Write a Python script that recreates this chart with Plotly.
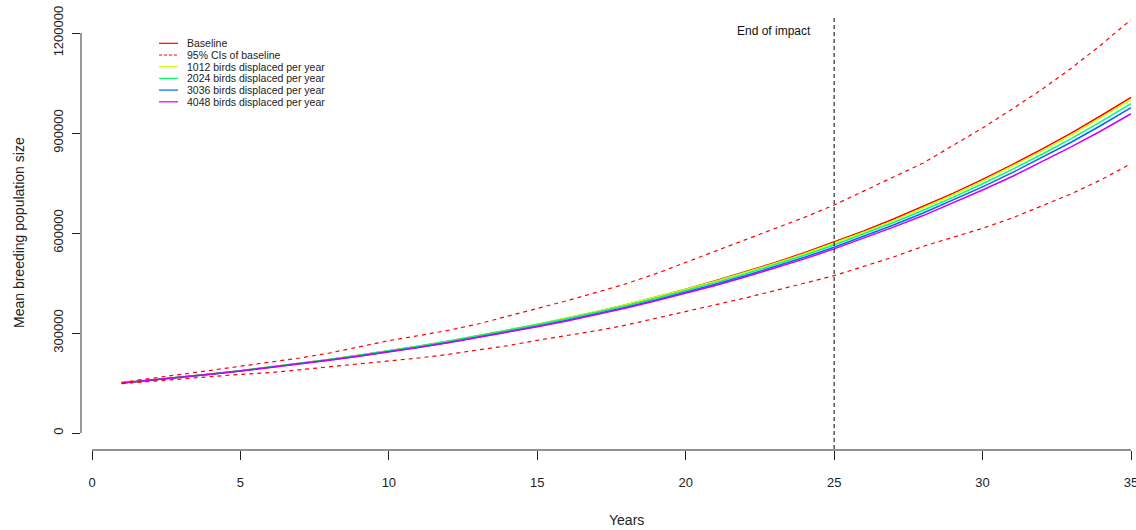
import plotly.graph_objects as go

# ---------------- data ----------------
years = list(range(1, 36))

baseline = [150000, 158500, 167500, 177000, 187000, 197500, 208500, 220500, 233000, 246000,
            260000, 275000, 291000, 308000, 325500, 344000, 364000, 385000, 407500, 431500,
            456500, 483000, 511000, 541000, 573000, 606500, 642000, 679500, 719000, 761000,
            805000, 851500, 900500, 952500, 1007000]

ci_upper = [152000, 163000, 176000, 188000, 200000, 214000, 225000, 240000, 258000, 277000,
            292000, 308000, 327000, 350000, 374000, 397000, 422000, 448000, 478000, 512000,
            545000, 578000, 612000, 647000, 684000, 727000, 768000, 810000, 862000, 915000,
            972000, 1031000, 1095000, 1165000, 1240000]

ci_lower = [148000, 155000, 163000, 170000, 176000, 181000, 190000, 198000, 206000, 215000,
            225000, 236000, 248000, 262000, 278000, 292000, 307000, 324000, 344000, 365000,
            385000, 405000, 427000, 449000, 472000, 500000, 528000, 560000, 588000, 614000,
            645000, 682000, 718000, 760000, 808000]

disp_1012 = [150000, 158500, 167500, 177100, 187100, 197600, 208700, 220700, 233300, 246400,
             260400, 275500, 291600, 308800, 326400, 345000, 364900, 385600, 407700, 431200,
             455600, 481400, 508600, 537700, 569000, 602000, 637200, 674600, 713900, 755700,
             799400, 845600, 894200, 945800, 1000000]

disp_2024 = [150000, 158600, 167600, 177000, 187000, 197500, 208600, 220700, 233300, 246400,
             260500, 275500, 291400, 308200, 325200, 343000, 362000, 382000, 403800, 426800,
             451200, 476900, 504000, 533000, 564000, 596700, 631400, 668200, 706800, 747900,
             790800, 836200, 884000, 934700, 988000]

disp_3036 = [150000, 158300, 167100, 176400, 186200, 196400, 207100, 218800, 230900, 243500,
             257100, 271600, 287100, 303500, 320400, 338200, 357400, 377600, 399200, 422300,
             446200, 471600, 498400, 527000, 557500, 589800, 624000, 660100, 698100, 738500,
             780900, 825800, 873000, 923200, 975800]

disp_4048 = [150000, 158300, 167000, 176200, 185900, 196000, 206600, 218200, 230200, 242700,
             256100, 270500, 285800, 302000, 318700, 336300, 355300, 375200, 396500, 419200,
             442800, 467800, 494100, 522300, 552400, 584100, 617600, 652300, 689500, 729000,
             769600, 813200, 859100, 906800, 957700]

series_names = ["Baseline", "95% CIs of baseline", "1012 birds displaced per year",
                "2024 birds displaced per year", "3036 birds displaced per year",
                "4048 birds displaced per year"]
series_colors = ["#FF0000", "#FF0000", "#CCFF00", "#00FF66", "#0066FF", "#CC00FF"]
series_dash = ["solid", "4px,4px", "solid", "solid", "solid", "solid"]

x_ticks = [0, 5, 10, 15, 20, 25, 30, 35]
y_ticks = [0, 300000, 600000, 900000, 1200000]
y_tick_labels = ["0", "300000", "600000", "900000", "1200000"]
impact_end_year = 25
impact_label = "End of impact"

# ---------------- layout geometry (pixels) ----------------
# page body margin is removed (post_script), so the figure fills the window
OFF = 0
W, H = 1136 - OFF, 530 - OFF
ML, MR, MT, MB = 81 - OFF, 5, 13 - OFF, 80
PW, PH = W - ML - MR, H - MT - MB

# reference-pixel geometry of the axes
X0_PX, X35_PX = 92, 1131
Y0_PX, PER_PX = 433, 3000.0
plot_top_ref = MT + OFF
plot_bot_ref = H - MB + OFF
x_per_px = 35.0 / (X35_PX - X0_PX)


def px_x(px):
    return (px - OFF - ML) / PW


def px_y(py):
    return (H - MB - (py - OFF)) / PH


FONT = "Liberation Sans, Arial, sans-serif"

fig = go.Figure()

lw = 1.5
fig.add_trace(go.Scatter(x=years, y=baseline, mode="lines", name=series_names[0],
                         line=dict(color=series_colors[0], width=lw), showlegend=False))
for vals, i in [(disp_1012, 2), (disp_2024, 3), (disp_3036, 4), (disp_4048, 5)]:
    fig.add_trace(go.Scatter(x=years, y=vals, mode="lines", name=series_names[i],
                             line=dict(color=series_colors[i], width=lw), showlegend=False))
for vals in [ci_upper, ci_lower]:
    fig.add_trace(go.Scatter(x=years, y=vals, mode="lines", name=series_names[1],
                             line=dict(color=series_colors[1], width=1.2, dash=series_dash[1]),
                             showlegend=False))

shapes = []
# detached R-style axis lines
shapes.append(dict(type="line", xref="x", yref="paper", x0=x_ticks[0], x1=x_ticks[-1], y0=0, y1=0,
                   line=dict(color="#6e6e6e", width=1.5)))
shapes.append(dict(type="line", xref="paper", yref="y", x0=0, x1=0, y0=y_ticks[0], y1=y_ticks[-1],
                   line=dict(color="#333333", width=1)))
# end of impact line
shapes.append(dict(type="line", xref="x", yref="paper", x0=impact_end_year, x1=impact_end_year,
                   y0=px_y(449), y1=px_y(17), line=dict(color="#000000", width=1, dash="4px,3px")))

annotations = []
annotations.append(dict(x=px_x(774), y=px_y(31), xref="paper", yref="paper", text=impact_label,
                        showarrow=False, font=dict(family=FONT, size=12, color="#111111"),
                        xanchor="center", yanchor="middle"))
# axis titles
annotations.append(dict(x=px_x(626), y=px_y(520), xref="paper", yref="paper", text="Years",
                        showarrow=False, font=dict(family=FONT, size=14, color="#222222"),
                        xanchor="center", yanchor="middle"))
annotations.append(dict(x=px_x(19), y=px_y(233), xref="paper", yref="paper",
                        text="Mean breeding population size", textangle=-90,
                        showarrow=False, font=dict(family=FONT, size=14, color="#222222"),
                        xanchor="center", yanchor="middle"))

# manual legend
row0, gap = 43.3, 11.7
for i, name in enumerate(series_names):
    yy = px_y(row0 + i * gap)
    shapes.append(dict(type="line", xref="paper", yref="paper", x0=px_x(159), x1=px_x(178),
                       y0=yy, y1=yy,
                       line=dict(color=series_colors[i], width=1.2,
                                 dash="3px,2px" if series_dash[i] != "solid" else "solid")))
    annotations.append(dict(x=px_x(185), y=yy, xref="paper", yref="paper", text=name,
                            showarrow=False, xanchor="left", yanchor="middle",
                            font=dict(family=FONT, size=10.5, color="#222222")))

fig.update_layout(
    width=W, height=H,
    margin=dict(l=ML, r=MR, t=MT, b=MB, pad=0, autoexpand=False),
    paper_bgcolor="white", plot_bgcolor="white",
    shapes=shapes, annotations=annotations,
    showlegend=False,
    xaxis=dict(range=[(ML + OFF - X0_PX) * x_per_px, (ML + OFF + PW - X0_PX) * x_per_px],
               tickvals=x_ticks, automargin=False,
               ticks="outside", ticklen=9, tickcolor="#222222", tickwidth=1,
               showgrid=False, zeroline=False, showline=False,
               tickfont=dict(family=FONT, size=13, color="#222222"),
               ticklabelstandoff=11, ticklabeloverflow="allow"),
    yaxis=dict(range=[(Y0_PX - plot_bot_ref) * PER_PX, (Y0_PX - plot_top_ref) * PER_PX],
               tickvals=y_ticks, ticktext=y_tick_labels, tickangle=-90, automargin=False,
               ticks="outside", ticklen=8, tickcolor="#222222", tickwidth=1,
               showgrid=False, zeroline=False, showline=False,
               tickfont=dict(family=FONT, size=13, color="#222222"),
               ticklabelstandoff=4, ticklabeloverflow="allow"),
)

fig.write_html("out.html", config={"displayModeBar": False},
               post_script="document.body.style.margin='0';document.body.style.overflow='hidden';")
